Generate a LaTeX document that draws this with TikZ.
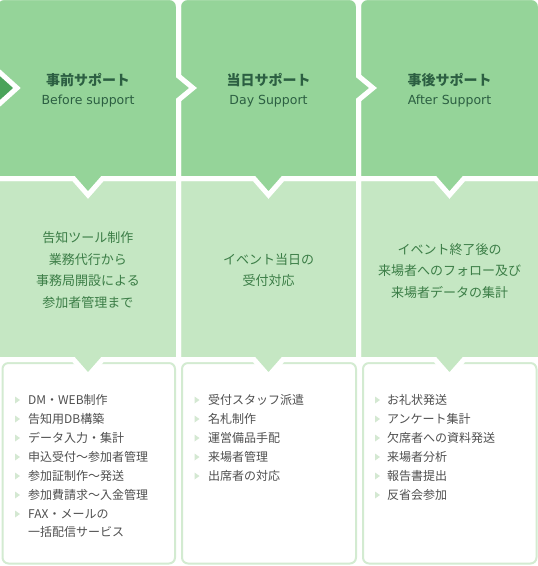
\documentclass[tikz,border=0pt]{standalone}
\usepackage{fontspec}
\setmainfont{Noto Sans CJK JP}
\newfontfamily\latinsub{DejaVu Sans}
\definecolor{topgreen}{HTML}{95D499}
\definecolor{midgreen}{HTML}{C5E7C3}
\definecolor{darkgreen}{HTML}{4AA35A}
\definecolor{titlecol}{HTML}{2C5F42}
\definecolor{midtext}{HTML}{3B7D46}
\definecolor{listtext}{HTML}{4F4F4F}
\definecolor{boxborder}{HTML}{D3EBD1}
\definecolor{bulletcol}{HTML}{D4E8D2}
\begin{document}
\begin{tikzpicture}[x=1pt,y=-1pt,
  toppanel/.style={fill=topgreen,draw=white,line width=5pt,line join=miter},
  midpanel/.style={fill=midgreen,draw=white,line width=5pt,line join=miter},
  boxline/.style={draw=boxborder,line width=2pt,rounded corners=6pt,fill=white},
  title/.style={font=\fontsize{14}{16}\selectfont\bfseries,text=titlecol,inner sep=0pt},
  subtitle/.style={font=\latinsub\fontsize{12.5}{15}\selectfont,text=titlecol,inner sep=0pt},
  midtxt/.style={font=\fontsize{13}{21.7}\selectfont,text=midtext,align=center,inner sep=0pt},
  item/.style={font=\fontsize{12}{14}\selectfont,text=listtext,anchor=west,inner sep=0pt,text height=10.5pt,text depth=1.5pt},
  bullet/.style={fill=bulletcol}]
\useasboundingbox (0,0) rectangle (538,566);
\clip (0,0) rectangle (538,566);

% bottom boxes
\path[boxline] (2.5,363) rectangle (175,563.5);
\path[boxline] (182,363) rectangle (356,563.5);
\path[boxline] (363,363) rectangle (536.5,563.5);

% middle panels
\path[midpanel] (358.5,178.5) -- (540.5,178.5) -- (540.5,359.5) -- (464,359.5) -- (449.5,376) -- (435,359.5) -- (358.5,359.5) -- cycle;
\path[midpanel] (178.5,178.5) -- (358.5,178.5) -- (358.5,359.5) -- (283,359.5) -- (268.5,376) -- (254,359.5) -- (178.5,359.5) -- cycle;
\path[midpanel] (-5,178.5) -- (178.5,178.5) -- (178.5,359.5) -- (102.5,359.5) -- (88,376) -- (73.5,359.5) -- (-5,359.5) -- cycle;

% top panels
\path[toppanel] (358.5,178.5) -- (435,178.5) -- (449.5,195) -- (464,178.5) -- (540.5,178.5) -- (540.5,40)
  [rounded corners=9pt] -- (540.5,-2.5) -- (358.5,-2.5) -- (358.5,40) [sharp corners] -- cycle;
\path[toppanel] (178.5,178.5) -- (254,178.5) -- (268.5,195) -- (283,178.5) -- (358.5,178.5) -- (358.5,100) -- (373,88) -- (358.5,76) -- (358.5,40)
  [rounded corners=9pt] -- (358.5,-2.5) -- (178.5,-2.5) -- (178.5,40) [sharp corners] -- cycle;
\path[toppanel] (-5,178.5) -- (73.5,178.5) -- (88,195) -- (102.5,178.5) -- (178.5,178.5) -- (178.5,100) -- (193,88) -- (178.5,76) -- (178.5,40)
  [rounded corners=9pt] -- (178.5,-2.5) -- (-5,-2.5) -- (-5,40) [sharp corners] -- cycle;

% left arrow
\path[fill=darkgreen,draw=white,line width=5pt,line join=miter] (-3,70) -- (17,88) -- (-3,106) -- cycle;

% titles
\node[title] (t1) at (88,80.5) {事前サポート};
\node[subtitle] (s1) at (88,101) {Before support};
\node[title] (t2) at (268.5,80.5) {当日サポート};
\node[subtitle] (s2) at (268.5,101) {Day Support};
\node[title] (t3) at (449.5,80.5) {事後サポート};
\node[subtitle] (s3) at (449.5,101) {After Support};

% middle texts
\node[midtxt] (m1) at (88,270) {告知ツール制作\\業務代行から\\事務局開設による\\参加者管理まで};
\node[midtxt] (m2) at (268.5,270) {イベント当日の\\受付対応};
\node[midtxt] (m3) at (449.5,271) {イベント終了後の\\来場者へのフォロー及び\\来場者データの集計};

% lists
\foreach \t [count=\n] in {DM・WEB制作,告知用DB構築,データ入力・集計,申込受付〜参加者管理,参加証制作〜発送,参加費請求〜入金管理,FAX・メールの}{
  \node[item] (a\n) at (28,381+19*\n) {\t};
  \path[bullet] (15,377.5+19*\n) -- (20,381+19*\n) -- (15,384.5+19*\n) -- cycle;
}
\node[item] (a8) at (28,532) {一括配信サービス};
\foreach \t [count=\n] in {受付スタッフ派遣,名札制作,運営備品手配,来場者管理,出席者の対応}{
  \node[item] (b\n) at (208,381+19*\n) {\t};
  \path[bullet] (194.5,377.5+19*\n) -- (199.5,381+19*\n) -- (194.5,384.5+19*\n) -- cycle;
}
\foreach \t [count=\n] in {お礼状発送,アンケート集計,欠席者への資料発送,来場者分析,報告書提出,反省会参加}{
  \node[item] (c\n) at (387,381+19*\n) {\t};
  \path[bullet] (375,377.5+19*\n) -- (380,381+19*\n) -- (375,384.5+19*\n) -- cycle;
}
\end{tikzpicture}
\end{document}
